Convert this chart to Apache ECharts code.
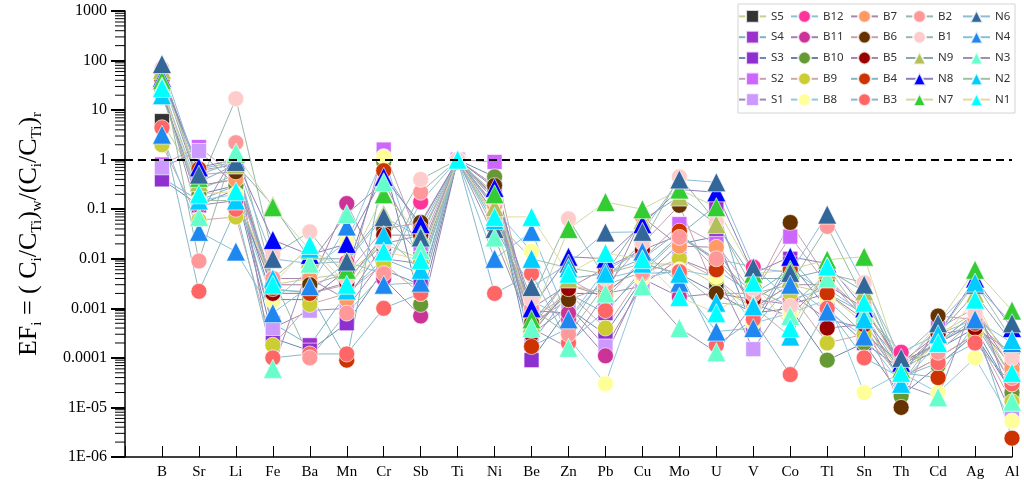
<!DOCTYPE html>
<html>
<head>
<meta charset="utf-8">
<script src="https://cdn.jsdelivr.net/npm/echarts@6/dist/echarts.min.js"></script>
<style>
  html, body { margin: 0; padding: 0; background: #fff; }
  #main { width: 1024px; height: 486px; }
</style>
</head>
<body>
<div id="main"></div>
<script>
// elements on the x axis
const categories = ['B', 'Sr', 'Li', 'Fe', 'Ba', 'Mn', 'Cr', 'Sb', 'Ti', 'Ni', 'Be', 'Zn',
  'Pb', 'Cu', 'Mo', 'U', 'V', 'Co', 'Tl', 'Sn', 'Th', 'Cd', 'Ag', 'Al'];

// y axis tick labels, from 1E-06 up to 1000
const yTickLabels = ['1E-06', '1E-05', '0.0001', '0.001', '0.01', '0.1', '1', '10', '100', '1000'];

// EF values per sample, in category order
const S5  = [6, 0.3, 0.4, 0.003, 0.004, 0.005, 0.02, 0.01, 1, 0.05, 0.0003, 0.003, 0.002, 0.008, 0.0077, 0.003, 0.001, 0.003, 0.002, 0.0005, 0.00005, 0.0003, 0.0008, 0.00004];
const S4  = [0.43, 0.15, 0.3, 0.0005, 0.00018, 0.002, 0.01, 0.005, 1, 0.3, 0.0002, 0.002, 0.0008, 0.006, 0.03, 0.12, 0.0005, 0.01, 0.0015, 0.0003, 0.00008, 0.0002, 0.0005, 0.00003];
const S3  = [0.4, 0.12, 0.25, 0.00025, 0.00014, 0.0005, 0.006, 0.003, 1, 0.2, 0.00009, 0.001, 0.0003, 0.004, 0.02, 0.028, 0.0004, 0.008, 0.001, 0.0002, 0.00006, 0.00015, 0.0004, 0.00002];
const S2  = [0.8, 1.8, 0.45, 0.002, 0.002, 0.003, 1.6, 0.02, 1, 0.9, 0.0004, 0.004, 0.0015, 0.01, 0.05, 0.02, 0.002, 0.028, 0.003, 0.001, 0.00007, 0.0004, 0.001, 0.00008];
const S1  = [0.7, 1.5, 0.3, 0.0004, 0.0009, 0.001, 0.01, 0.008, 1, 0.15, 0.0003, 0.0011, 0.00017, 0.003, 0.01, 0.005, 0.00015, 0.002, 0.0006, 0.0004, 0.00004, 0.0001, 0.0003, 0.000007];
const B12 = [30, 0.25, 0.5, 0.0023, 0.0022, 0.0085, 0.005, 0.14, 1, 0.05, 0.0014, 0.0006, 0.004, 0.006, 0.03, 0.01, 0.0068, 0.0015, 0.0025, 0.0008, 0.00013, 0.0003, 0.0006, 0.0001];
const B11 = [25, 0.12, 0.15, 0.003, 0.003, 0.13, 0.004, 0.0007, 1, 0.08, 0.0009, 0.0008, 0.00011, 0.004, 0.0017, 0.002, 0.0015, 0.0012, 0.002, 0.0006, 0.00008, 0.0002, 0.0005, 0.00007];
const B10 = [20, 0.2, 0.3, 0.0015, 0.0015, 0.006, 0.9, 0.0012, 1, 0.45, 0.0004, 0.002, 0.002, 0.008, 0.005, 0.002, 0.0008, 0.001, 0.00009, 0.0002, 0.000017, 0.00007, 0.0003, 0.00002];
const B9  = [2, 0.06, 0.07, 0.00018, 0.0012, 0.002, 0.008, 0.002, 1, 0.1, 0.0006, 0.002, 0.0004, 0.005, 0.01, 0.004, 0.001, 0.002, 0.0002, 0.0003, 0.00004, 0.0001, 0.0003, 0.000013];
const B8  = [35, 0.15, 0.2, 0.0014, 0.006, 0.022, 1.15, 0.006, 1, 0.1, 0.014, 0.00025, 0.00003, 0.004, 0.006, 0.0044, 0.0005, 0.0008, 0.0015, 0.00002, 0.00005, 0.00002, 0.0001, 0.0000053];
const B7  = [45, 0.3, 0.4, 0.004, 0.004, 0.0015, 0.02, 0.03, 1, 0.12, 0.001, 0.003, 0.0017, 0.07, 0.018, 0.017, 0.001, 0.003, 0.003, 0.001, 0.00007, 0.0002, 0.0008, 0.00006];
const B6  = [60, 0.5, 0.57, 0.003, 0.003, 0.005, 0.04, 0.054, 1, 0.3, 0.0005, 0.0015, 0.0028, 0.02, 0.12, 0.002, 0.002, 0.054, 0.004, 0.0006, 0.00001, 0.0007, 0.0006, 0.00003];
const B5  = [50, 0.6, 0.8, 0.002, 0.002, 0.0033, 0.03, 0.03, 1, 0.18, 0.0003, 0.0025, 0.0066, 0.015, 0.03, 0.0089, 0.0015, 0.004, 0.0004, 0.00047, 0.00006, 0.0003, 0.0004, 0.00013];
const B4  = [40, 0.65, 0.9, 0.0025, 0.002, 0.00009, 0.6, 0.04, 1, 0.17, 0.00017, 0.0004, 0.005, 0.01, 0.036, 0.006, 0.0019, 0.006, 0.002, 0.0008, 0.00005, 0.00004, 0.0005, 0.0000024];
const B3  = [4.4, 0.0022, 0.1, 0.0001, 0.00012, 0.00012, 0.001, 0.002, 1, 0.002, 0.005, 0.0002, 0.0009, 0.005, 0.0055, 0.00018, 0.0006, 0.000046, 0.001, 0.0001, 0.00004, 0.00008, 0.0002, 0.00003];
const B2  = [55, 0.009, 2.2, 0.004, 0.0001, 0.0008, 0.005, 0.22, 1, 0.07, 0.001, 0.0003, 0.003, 0.0053, 0.027, 0.01, 0.002, 0.003, 0.045, 0.0015, 0.00008, 0.00013, 0.0006, 0.00004];
const B1  = [70, 0.3, 17, 0.012, 0.035, 0.004, 0.02, 0.4, 1, 0.15, 0.0015, 0.064, 0.004, 0.021, 0.45, 0.056, 0.0025, 0.0011, 0.005, 0.0033, 0.00006, 0.0002, 0.0008, 0.0001];
const N9  = [65, 0.35, 0.8, 0.12, 0.01, 0.01, 0.08, 0.012, 1, 0.11, 0.0005, 0.004, 0.005, 0.06, 0.18, 0.05, 0.004, 0.004, 0.006, 0.0022, 0.00005, 0.0003, 0.002, 0.0002];
const N8  = [45, 0.7, 1.0, 0.024, 0.012, 0.02, 0.45, 0.05, 1, 0.27, 0.001, 0.011, 0.01, 0.05, 0.25, 0.22, 0.005, 0.011, 0.008, 0.001, 0.00008, 0.0003, 0.004, 0.0004];
const N7  = [40, 0.43, 1.3, 0.11, 0.015, 0.006, 0.2, 0.03, 1, 0.2, 0.0006, 0.04, 0.14, 0.1, 0.25, 0.11, 0.005, 0.006, 0.0096, 0.011, 0.00006, 0.0005, 0.006, 0.0009];
const N6  = [85, 0.5, 0.9, 0.01, 0.008, 0.0088, 0.07, 0.027, 1, 0.04, 0.0027, 0.008, 0.034, 0.035, 0.4, 0.35, 0.0067, 0.0052, 0.078, 0.003, 0.0001, 0.0005, 0.003, 0.0005];
const N4  = [3.2, 0.035, 0.014, 0.0008, 0.0028, 0.045, 0.003, 0.0033, 1, 0.01, 0.035, 0.0006, 0.006, 0.014, 0.0033, 0.00034, 0.0004, 0.003, 0.00086, 0.00027, 0.00003, 0.0002, 0.0006, 0.0002];
const N3  = [30, 0.07, 1.4, 0.00006, 0.008, 0.08, 0.35, 0.015, 1, 0.027, 0.0004, 0.00016, 0.002, 0.0028, 0.0004, 0.00013, 0.0012, 0.0007, 0.004, 0.0008, 0.00003, 0.000016, 0.0015, 0.000013];
const N2  = [20, 0.15, 0.15, 0.004, 0.016, 0.0023, 0.03, 0.006, 1, 0.06, 0.01, 0.0065, 0.005, 0.008, 0.005, 0.0013, 0.0011, 0.00027, 0.007, 0.0006, 0.00003, 0.0003, 0.0033, 0.00023];
const N1  = [28, 0.2, 0.23, 0.003, 0.019, 0.003, 0.014, 0.0095, 1, 0.07, 0.07, 0.005, 0.013, 0.0098, 0.0017, 0.0008, 0.0033, 0.0004, 0.007, 0.0013, 0.00005, 0.0002, 0.0015, 0.00005];

const seriesNames = ['S5', 'S4', 'S3', 'S2', 'S1', 'B12', 'B11', 'B10', 'B9', 'B8', 'B7', 'B6', 'B5',
  'B4', 'B3', 'B2', 'B1', 'N9', 'N8', 'N7', 'N6', 'N4', 'N3', 'N2', 'N1'];
const seriesValues = [S5, S4, S3, S2, S1, B12, B11, B10, B9, B8, B7, B6, B5,
  B4, B3, B2, B1, N9, N8, N7, N6, N4, N3, N2, N1];

const markerColors = ['#333333', '#9933cc', '#8e2fd0', '#cc66ff', '#cc99ff', '#ff3399', '#cc3399',
  '#669933', '#cccc33', '#ffff99', '#ff9966', '#663300', '#990000', '#cc3300', '#ff6666',
  '#ff9999', '#ffcccc', '#b3c05a', '#0000ff', '#33cc33', '#336699', '#1e88f0', '#66ffcc',
  '#00ccff', '#00ffff'];
const lineColors = ['#c8d08a', '#7ab3c4', '#6a8ab8', '#c8a0b8', '#a088b0', '#88c4d8', '#a080b0',
  '#7080a8', '#d0a8a8', '#90c8e0', '#a888a8', '#c8a0b0', '#a888a8', '#80b8c8', '#88b8c8',
  '#98b8a8', '#98b8a8', '#88a8b0', '#9080b8', '#d0d8a0', '#90bcd8', '#88c0d8', '#a090b0',
  '#a0c0a8', '#e8d8a0'];

function shapeOf(name) {
  if (name[0] === 'S') return 'rect';
  if (name[0] === 'B') return 'circle';
  return 'triangle';
}
function sizeOf(name) {
  if (name[0] === 'S') return 15;
  if (name[0] === 'B') return 16;
  return 19;
}

const serif = '"Liberation Serif", "Times New Roman", serif';

const series = seriesNames.map(function (name, i) {
  const s = {
    name: name,
    type: 'line',
    data: ['-'].concat(seriesValues[i]),
    symbol: shapeOf(name),
    symbolSize: sizeOf(name),
    lineStyle: { color: lineColors[i], width: 1 },
    itemStyle: { color: markerColors[i], borderColor: 'rgba(255,255,255,0.8)', borderWidth: 0.8 },
    emphasis: { disabled: true }
  };
  if (i === 0) {
    s.markLine = {
      silent: true,
      symbol: 'none',
      label: { show: false },
      lineStyle: { color: '#000', type: [8, 5], width: 2 },
      data: [{ yAxis: 1 }]
    };
  }
  return s;
});

// log-spaced minor ticks on the y axis
const minorTicks = [];
for (let k = -6; k < 3; k++) {
  for (let m = 2; m < 10; m++) {
    minorTicks.push([0, m * Math.pow(10, k)]);
  }
}
series.push({
  name: 'minor',
  type: 'custom',
  silent: true,
  data: minorTicks,
  encode: { x: 0, y: 1 },
  renderItem: function (params, api) {
    const y = api.coord([0, api.value(1)])[1];
    const x = params.coordSys.x;
    return {
      type: 'line',
      shape: { x1: x - 10, y1: y, x2: x, y2: y },
      style: { stroke: '#000', lineWidth: 1 }
    };
  }
});

const legendCols = [738, 790, 850, 905, 962];
const legends = legendCols.map(function (left, c) {
  return {
    orient: 'vertical',
    left: left,
    top: 9,
    padding: 0,
    itemWidth: 27,
    itemHeight: 16,
    itemGap: 6,
    data: seriesNames.slice(c * 5, c * 5 + 5),
    textStyle: { fontFamily: '"Noto Sans", sans-serif', fontSize: 11.5, color: '#333' }
  };
});

const chart = echarts.init(document.getElementById('main'));
chart.setOption({
  animation: false,
  backgroundColor: '#fff',
  grid: { left: 125, right: 12, top: 11, bottom: 29 },
  legend: legends,
  graphic: [{
    type: 'rect',
    silent: true,
    shape: { x: 738, y: 4, width: 277, height: 109 },
    style: { fill: 'none', stroke: '#d4d4d4', lineWidth: 1 }
  }],
  xAxis: {
    type: 'category',
    boundaryGap: false,
    data: [''].concat(categories),
    axisLine: { lineStyle: { color: '#000', width: 1.5 } },
    axisTick: { inside: true, length: 11, lineStyle: { color: '#000' } },
    axisLabel: { color: '#000', fontFamily: serif, fontSize: 15, margin: 8, interval: 0 }
  },
  yAxis: {
    type: 'log',
    logBase: 10,
    min: 1e-6,
    max: 1000,
    name: '{a|EF}{s|i}{a| = ( C}{s|i}{a|/C}{s|Ti}{a|)}{s|w}{a|/(C}{s|i}{a|/C}{s|Ti}{a|)}{s|r}',
    nameLocation: 'middle',
    nameGap: 80,
    nameRotate: 90,
    nameTextStyle: {
      color: '#000',
      rich: {
        a: { fontFamily: serif, fontSize: 26, lineHeight: 32, verticalAlign: 'middle', color: '#000' },
        s: { fontFamily: serif, fontSize: 15, lineHeight: 15, verticalAlign: 'bottom', color: '#000' }
      }
    },
    axisLine: { show: true, lineStyle: { color: '#000', width: 1.5 } },
    axisTick: { show: true, inside: false, length: 14, lineStyle: { color: '#000', width: 2 } },
    splitLine: { show: false },
    axisLabel: {
      color: '#000',
      fontFamily: serif,
      fontSize: 16,
      margin: 18,
      formatter: function (v) {
        return yTickLabels[Math.round(Math.log10(v)) + 6];
      }
    }
  },
  series: series
});
</script>
</body>
</html>
